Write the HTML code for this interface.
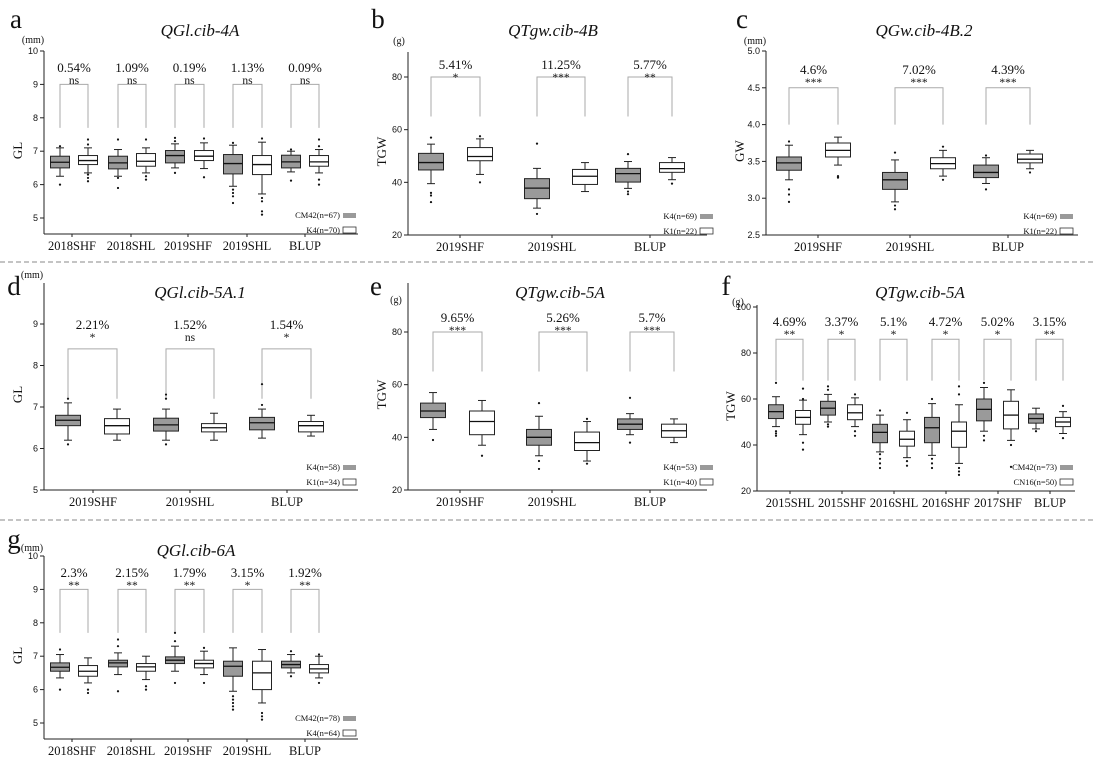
<!DOCTYPE html><html><head><meta charset="utf-8"><style>body{margin:0;background:#fff}svg{display:block}</style></head><body>
<svg id="s" width="1093" height="765" xmlns="http://www.w3.org/2000/svg" font-family="Liberation Serif, serif"></svg>
<script>
const S=document.getElementById('s');let h='';
function T(x,y,t,sz,o){o=o||{};h+=`<text x="${x}" y="${y}" font-size="${sz}" text-anchor="${o.a||'middle'}" ${o.i?'font-style="italic"':''} ${o.f?`font-family="${o.f}"`:''} ${o.r?`transform="rotate(-90 ${x} ${y})"`:''} fill="${o.c||'#111'}">${t}</text>`;}
function L(x1,y1,x2,y2,c,w){h+=`<line x1="${x1}" y1="${y1}" x2="${x2}" y2="${y2}" stroke="${c||'#222'}" stroke-width="${w||1}"/>`;}
function panel(p){
 const Y=v=>p.y0+(v-p.v0)*(p.y1-p.y0)/(p.v1-p.v0);
 L(p.ax,p.top,p.ax,p.bot);L(p.ax,p.bot,p.right,p.bot);
 p.ticks.forEach(t=>{const y=Y(t);L(p.ax-4,y,p.ax,y);T(p.ax-6,y+3,p.tf?p.tf(t):t,9,{a:'end',f:'Liberation Sans, sans-serif'});});
 T(p.ax-22,(p.top+p.bot)/2+8,p.yl,13,{r:1});
 T(p.ux||p.ax-12,p.uy||p.top-8,p.unit,10);
 T(p.lx,p.ly,p.letter,27);
 T(p.tx,p.ty,p.title,17,{i:1});
 p.g.forEach((g,i)=>{
  const bw=p.bw,bt=Y(p.bv),bb=Y(p.bb);
  h+=`<polyline points="${g.c[0]},${bb} ${g.c[0]},${bt} ${g.c[1]},${bt} ${g.c[1]},${bb}" fill="none" stroke="#aaa" stroke-width="1"/>`;
  const cx=(g.c[0]+g.c[1])/2;
  T(cx,p.py,g.p,13);T(cx,p.py+12,g.s,11.5);
  [0,1].forEach(k=>{const d=g.d[k],x=g.c[k];
   L(x,Y(d[0]),x,Y(d[4]));L(x-4,Y(d[0]),x+4,Y(d[0]));L(x-4,Y(d[4]),x+4,Y(d[4]));
   h+=`<rect x="${x-bw/2}" y="${Y(d[3])}" width="${bw}" height="${Y(d[1])-Y(d[3])}" fill="${k?'#fff':'#9a9a9a'}" stroke="#222"/>`;
   L(x-bw/2,Y(d[2]),x+bw/2,Y(d[2]),'#111',1.3);
   (d[5]||[]).forEach(o=>h+=`<circle cx="${x}" cy="${Y(o)}" r="1.1" fill="#111"/>`);
  });
  L(g.x,p.bot,g.x,p.bot+3);T(g.x,p.bot+16,g.n,12.5);
 });
 const sx=p.leg[0];
 T(sx-3,p.lv[0]+3,p.leg[1],8.5,{a:'end'});T(sx-3,p.lv[1]+3,p.leg[2],8.5,{a:'end'});
 h+=`<rect x="${sx}" y="${p.lv[0]-2}" width="13" height="5" fill="#9a9a9a"/><rect x="${sx}" y="${p.lv[1]-3}" width="13" height="6" fill="#fff" stroke="#333" stroke-width=".8"/>`;
}
const gx=[[60,88,72],[118,146,131],[175,204,188],[233,262,247],[291,319,305]];
const GLn=['2018SHF','2018SHL','2019SHF','2019SHL','BLUP'];
function mk(pos,names,ps,ss,data){return pos.map((c,i)=>({c:[c[0],c[1]],x:c[2],n:names[i],p:ps[i],s:ss[i],d:data[i]}));}
// a
panel({ax:44,right:358,top:51,bot:234,y0:51,v0:10,y1:218,v1:5,ticks:[10,9,8,7,6,5],yl:'GL',unit:'(mm)',ux:33,uy:43,letter:'a',lx:16,ly:28,title:'QGl.cib-4A',tx:200,ty:36,bw:19,bv:9,bb:7.7,py:72,
 leg:[343,'CM42(n=67)','K4(n=70)'],lv:[215,230],
 g:mk(gx,GLn,['0.54%','1.09%','0.19%','1.13%','0.09%'],['ns','ns','ns','ns','ns'],[
 [[6.25,6.5,6.67,6.85,7.1,[6,7.15]],[6.35,6.6,6.72,6.87,7.1,[6.1,6.2,6.3,7.2,7.35]]],
 [[6.25,6.47,6.65,6.85,7.05,[5.9,6.2,7.35]],[6.35,6.55,6.7,6.93,7.1,[6.15,6.25,7.35]]],
 [[6.5,6.65,6.87,7.02,7.22,[6.35,7.3,7.4]],[6.48,6.72,6.85,7.02,7.25,[6.22,7.38]]],
 [[5.95,6.32,6.63,6.9,7.18,[5.45,5.65,5.75,5.85,7.25]],[5.72,6.3,6.6,6.87,7.27,[5.1,5.2,5.5,5.6,7.38]]],
 [[6.38,6.5,6.68,6.88,7.0,[6.12,7.05]],[6.35,6.55,6.68,6.87,7.05,[6.0,6.15,7.15,7.35]]]])});
// b
const bx=[[431,480,460],[537,585,552],[628,672,650]],bn=['2019SHF','2019SHL','BLUP'];
panel({ax:408,right:707,top:52,bot:235,y0:77,v0:80,y1:235,v1:20,ticks:[80,60,40,20],yl:'TGW',unit:'(g)',ux:399,uy:44,letter:'b',lx:378,ly:28,title:'QTgw.cib-4B',tx:553,ty:36,bw:25,bv:80,bb:65,py:69,
 leg:[700,'K4(n=69)','K1(n=22)'],lv:[216,231],
 g:mk(bx,bn,['5.41%','11.25%','5.77%'],['*','***','**'],[
 [[39.5,44.7,47.5,51,54.5,[32.5,35,36,57]],[43,48.2,49.8,53.2,56.5,[40,57.5]]],
 [[30.2,33.8,37.8,41.4,45.3,[28,54.7]],[36.5,39.2,42.3,44.9,47.5,[]]],
 [[37.7,40.1,43.3,45.3,47.9,[35.5,36.5,50.7]],[41,43.8,45.2,47.5,49.4,[39.5]]]])});
// c
const cx=bx.map(a=>[a[0]+358,a[1]+358,a[2]+358]);
panel({ax:766,right:1078,top:51,bot:235,y0:51,v0:5,y1:235,v1:2.5,ticks:[5,4.5,4,3.5,3,2.5],tf:t=>t.toFixed(1),yl:'GW',unit:'(mm)',ux:755,uy:44,letter:'c',lx:742,ly:28,title:'QGw.cib-4B.2',tx:924,ty:36,bw:25,bv:4.5,bb:4.0,py:74,
 leg:[1060,'K4(n=69)','K1(n=22)'],lv:[216,231],
 g:mk(cx,bn,['4.6%','7.02%','4.39%'],['***','***','***'],[
 [[3.25,3.38,3.48,3.56,3.72,[2.95,3.05,3.12,3.77]],[3.45,3.56,3.65,3.75,3.83,[3.28,3.3]]],
 [[2.95,3.12,3.25,3.35,3.52,[2.85,2.9,3.62]],[3.3,3.4,3.47,3.55,3.65,[3.25,3.7]]],
 [[3.2,3.28,3.35,3.45,3.55,[3.12,3.58]],[3.4,3.48,3.53,3.6,3.65,[3.35]]]])});
h+='<line x1="0" y1="262" x2="1093" y2="262" stroke="#888" stroke-dasharray="5,3"/><line x1="0" y1="520" x2="1093" y2="520" stroke="#888" stroke-dasharray="5,3"/>';
// d
const dx=[[68,117,93],[166,214,190],[262,311,287]];
panel({ax:44,right:358,top:283,bot:490,y0:324,v0:9,y1:490,v1:5,ticks:[9,8,7,6,5],yl:'GL',unit:'(mm)',ux:32,uy:278,letter:'d',lx:14,ly:295,title:'QGl.cib-5A.1',tx:200,ty:298,bw:25,bv:8.4,bb:7.2,py:329,
 leg:[343,'K4(n=58)','K1(n=34)'],lv:[467,482],
 g:mk(dx,bn,['2.21%','1.52%','1.54%'],['*','ns','*'],[
 [[6.2,6.55,6.68,6.8,7.1,[6.1,7.2]],[6.2,6.35,6.55,6.72,6.95,[]]],
 [[6.2,6.42,6.57,6.73,6.95,[6.1,7.2,7.3]],[6.2,6.4,6.5,6.6,6.85,[]]],
 [[6.25,6.45,6.62,6.75,6.95,[7.05,7.55]],[6.3,6.4,6.55,6.65,6.8,[]]]])});
// e
const ex=bx.map(a=>[a[0]+2,a[1]+2,a[2]]);
panel({ax:408,right:707,top:283,bot:490,y0:332,v0:80,y1:490,v1:20,ticks:[80,60,40,20],yl:'TGW',unit:'(g)',ux:396,uy:303,letter:'e',lx:376,ly:295,title:'QTgw.cib-5A',tx:560,ty:298,bw:25,bv:80,bb:65,py:322,
 leg:[700,'K4(n=53)','K1(n=40)'],lv:[467,482],
 g:mk(ex,bn,['9.65%','5.26%','5.7%'],['***','***','***'],[
 [[43,47.5,50,53,57,[39]],[37,41,46,50,54,[33]]],
 [[33,37,40,43,48,[28,31,53]],[31,35,38,42,46,[30,47]]],
 [[41,43,45,47,49,[38,55]],[38,40,42.5,45,47,[]]]])});
// f
const fx=[0,1,2,3,4,5].map(i=>[776+52*i,803+52*i,790+52*i]);
panel({ax:757,right:1075,top:305,bot:491,y0:307,v0:100,y1:491,v1:20,ticks:[100,80,60,40,20],yl:'TGW',unit:'(g)',ux:738,uy:305,letter:'f',lx:726,ly:295,title:'QTgw.cib-5A',tx:920,ty:298,bw:15,bv:86,bb:68,py:326,
 leg:[1060,'CM42(n=73)','CN16(n=50)'],lv:[467,482],
 g:mk(fx,['2015SHL','2015SHF','2016SHL','2016SHF','2017SHF','BLUP'],['4.69%','3.37%','5.1%','4.72%','5.02%','3.15%'],['**','*','*','*','*','**'],[
 [[48,51.5,54.5,57.5,61,[44,45,46,67]],[44.5,49,52,55,59.5,[38,41,60,64.5]]],
 [[50,53,56,59,62,[48,49,64,65.5]],[48,51,54,57.5,60.5,[44,46,62]]],
 [[37,41,45.5,49,53,[30,32,34,36,55]],[34.5,39.5,42.5,46,51,[31,33,54]]],
 [[35.5,41,47.5,52,58,[30,32,34,60]],[32,39,46,50,57.5,[27,28.5,30,62,65.5]]],
 [[46,50.5,55.5,60,65,[42,44,67]],[42,47,53,59,64,[30.5,40]]],
 [[47,49.5,51.5,53.5,56,[46]],[45,48,50,52,54.5,[43,57]]]])});
// g
panel({ax:44,right:358,top:556,bot:739,y0:556,v0:10,y1:723,v1:5,ticks:[10,9,8,7,6,5],yl:'GL',unit:'(mm)',ux:32,uy:551,letter:'g',lx:14,ly:548,title:'QGl.cib-6A',tx:196,ty:556,bw:19,bv:9,bb:7.7,py:577,
 leg:[343,'CM42(n=78)','K4(n=64)'],lv:[718,733],
 g:mk(gx,GLn,['2.3%','2.15%','1.79%','3.15%','1.92%'],['**','**','**','*','**'],[
 [[6.35,6.55,6.67,6.8,7.05,[6.0,7.2]],[6.2,6.4,6.55,6.72,6.95,[5.9,6.0]]],
 [[6.45,6.68,6.8,6.88,7.1,[5.95,7.3,7.5]],[6.3,6.55,6.68,6.78,7.0,[6.0,6.1]]],
 [[6.55,6.78,6.88,6.98,7.3,[6.2,7.45,7.7]],[6.45,6.65,6.78,6.88,7.15,[6.2,7.25]]],
 [[5.95,6.4,6.7,6.85,7.25,[5.4,5.5,5.6,5.7,5.8]],[5.6,6.0,6.5,6.85,7.2,[5.1,5.2,5.3]]],
 [[6.5,6.65,6.75,6.85,7.05,[6.4,7.15]],[6.35,6.5,6.62,6.75,7.0,[6.2,7.05]]]])});
S.innerHTML=h;
</script></body></html>
